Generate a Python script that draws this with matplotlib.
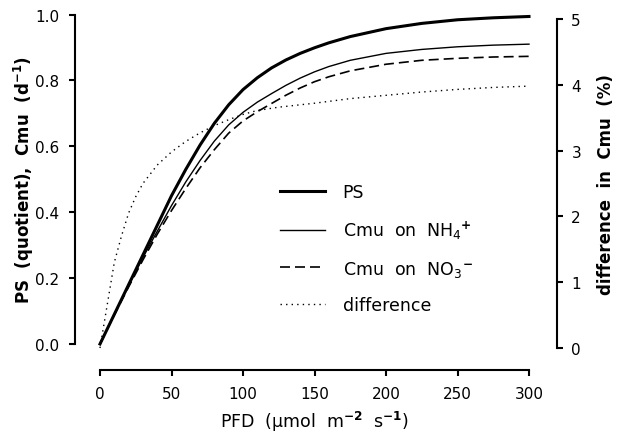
import numpy as np
import matplotlib
matplotlib.use('Agg')
from matplotlib import pyplot as plt

plt.rcParams['font.family'] = ['DejaVu Sans']
plt.rcParams['mathtext.fontset'] = 'dejavusans'

# light response curves
pfd = [0, 10, 20, 30, 40, 50, 60, 70, 80, 90, 100, 110, 120, 130, 140, 150, 160, 175, 200, 225, 250, 275, 300]
ps = [0, 0.09, 0.18, 0.27, 0.36, 0.45, 0.53, 0.604, 0.67, 0.726, 0.772, 0.808, 0.838, 0.862, 0.882, 0.899,
      0.914, 0.933, 0.957, 0.973, 0.984, 0.990, 0.994]
cmu_nh4 = [0, 0.09, 0.177, 0.262, 0.342, 0.42, 0.492, 0.557, 0.616, 0.665, 0.703, 0.734, 0.76, 0.785, 0.807,
           0.826, 0.842, 0.861, 0.882, 0.894, 0.902, 0.907, 0.91]
cmu_no3 = [0, 0.088, 0.173, 0.255, 0.333, 0.405, 0.472, 0.535, 0.59, 0.64, 0.677, 0.705, 0.73, 0.755, 0.777,
           0.796, 0.811, 0.829, 0.849, 0.861, 0.867, 0.871, 0.873]

# difference in Cmu (%), right axis
pfd_diff = [0, 5, 10, 15, 20, 25, 30, 40, 50, 60, 70, 80, 90, 100, 110, 125, 150, 175, 200, 225, 250, 275, 300]
diff = [0, 0.65, 1.3, 1.7, 2.05, 2.3, 2.5, 2.78, 2.98, 3.14, 3.27, 3.38, 3.47, 3.55, 3.61, 3.66, 3.72,
        3.79, 3.84, 3.89, 3.93, 3.96, 3.98]

W, H = 617, 435
fig = plt.figure(figsize=(W / 100, H / 100), dpi=100)
ax = fig.add_axes([100 / W, 90 / H, 429 / W, 329.5 / H])
ax2 = fig.add_axes([100 / W, 86 / H, 429 / W, 329 / H])
ax2.patch.set_visible(False)

l1, = ax.plot(pfd, ps, c='k', lw=2.2, clip_on=False)
l2, = ax.plot(pfd, cmu_nh4, c='k', lw=1.0, clip_on=False)
l3, = ax.plot(pfd, cmu_no3, c='k', lw=1.2, dashes=(6, 3), clip_on=False)
l4, = ax2.plot(pfd_diff, diff, c='k', lw=1.0, dashes=(1, 3), clip_on=False)

ax.set_xlim(0, 300)
ax.set_ylim(0, 1)
ax2.set_xlim(0, 300)
ax2.set_ylim(0, 5)

ax.set_xticks([0, 50, 100, 150, 200, 250, 300])
ax.set_yticks([0, 0.2, 0.4, 0.6, 0.8, 1.0])
ax.set_yticklabels(['0.0', '0.2', '0.4', '0.6', '0.8', '1.0'])
ax2.set_yticks([0, 1, 2, 3, 4, 5])

for s in ['top', 'right']:
    ax.spines[s].set_visible(False)
for s in ['top', 'left', 'bottom']:
    ax2.spines[s].set_visible(False)
ax.spines['left'].set_position(('outward', 18))
ax.spines['bottom'].set_position(('outward', 19))
ax2.spines['right'].set_position(('outward', 20))
for sp in [ax.spines['left'], ax.spines['bottom'], ax2.spines['right']]:
    sp.set_linewidth(1.5)

ax.tick_params(direction='out', length=4.5, width=1.5, labelsize=11, pad=7)
ax.tick_params(axis='y', pad=7)
ax2.tick_params(axis='x', bottom=False, labelbottom=False)
ax2.tick_params(axis='y', left=False, labelleft=False, right=True, labelright=True,
                direction='out', length=4.5, width=1.5, labelsize=11, pad=6)

ax.set_xlabel(r'PFD  (µmol  m$^{\mathbf{-2}}$  s$^{\mathbf{-1}}$)', fontsize=12.5)
ax.xaxis.set_label_coords(0.5, -0.198)
ax.set_ylabel(r'PS  (quotient),  Cmu  (d$^{\mathbf{-1}}$)', fontsize=12, fontweight='bold')
ax.yaxis.set_label_coords(-0.15, 0.5)
ax2.yaxis.set_label_position('right')
ax2.set_ylabel('difference  in  Cmu  (%)', fontsize=12, fontweight='bold')
ax2.yaxis.set_label_coords(1.158, 0.5)

ax2.legend([l1, l2, l3, l4],
           ['PS', r'Cmu  on  NH$_4$$^{\mathbf{+}}$', r'Cmu  on  NO$_3$$^{\mathbf{-}}$', 'difference'],
           loc='upper left', bbox_to_anchor=(0.42, 0.5), frameon=False, fontsize=12.5,
           handlelength=2.6, handletextpad=1.0, labelspacing=1.0, borderpad=0, borderaxespad=0)

fig.savefig('out.png', dpi=100)
